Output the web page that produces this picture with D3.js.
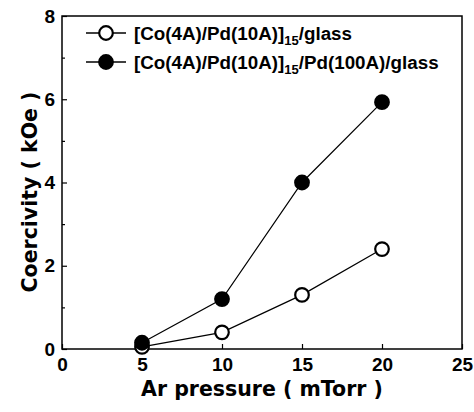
<!DOCTYPE html>
<html><head><meta charset="utf-8">
<script src="https://cdn.jsdelivr.net/npm/d3@7"></script>
<style>body{margin:0;background:#fff}svg{display:block}text{font-family:"Liberation Sans",Arial,sans-serif;}</style>
</head><body>
<svg id="c" width="474" height="412"></svg>
<script>
const pressure = [5, 10, 15, 20];
const glassSeries = [0.05, 0.4, 1.3, 2.4];
const pdSeries = [0.15, 1.2, 4.0, 5.93];
const xTicks = [0, 5, 10, 15, 20, 25];
const yTicks = [0, 2, 4, 6, 8];
const yMinor = [1, 3, 5, 7];
const legendLabels = ["[Co(4A)/Pd(10A)]", "[Co(4A)/Pd(10A)]"];
const legendTails = ["/glass", "/Pd(100A)/glass"];

const svg = d3.select("#c");
const L = 62, R = 462, T = 16, B = 349;
const x = d3.scaleLinear().domain([0, 25]).range([L, R]);
const y = d3.scaleLinear().domain([0, 8]).range([B, T]);

svg.append("rect").attr("x", L).attr("y", T).attr("width", R - L).attr("height", B - T)
  .attr("fill", "none").attr("stroke", "#000").attr("stroke-width", 1.5);

svg.append("g").attr("transform", `translate(0,${B})`)
  .call(d3.axisBottom(x).tickValues(xTicks).tickSize(-5).tickPadding(9).tickFormat(d3.format("d")));
svg.append("g").attr("transform", `translate(${L},0)`)
  .call(d3.axisLeft(y).tickValues(yTicks).tickSize(-5).tickPadding(7).tickFormat(d3.format("d")));
svg.append("g").attr("transform", `translate(${L},0)`)
  .call(d3.axisLeft(y).tickValues(yMinor).tickSize(-3).tickFormat(""));
svg.selectAll(".domain").remove();
svg.selectAll(".tick line").attr("stroke", "#000").attr("stroke-width", 1.2);
svg.selectAll(".tick text").attr("font-size", 19).attr("font-weight", "bold").attr("fill", "#000")
  .style("font-family", "'Liberation Sans',Arial,sans-serif");

const line = d3.line().x((d, i) => x(pressure[i])).y(d => y(d));
[glassSeries, pdSeries].forEach(s => {
  svg.append("path").datum(s).attr("d", line).attr("fill", "none").attr("stroke", "#000").attr("stroke-width", 1.2);
});
[[glassSeries, "#fff"], [pdSeries, "#000"]].forEach(([s, fill]) => {
  svg.selectAll(null).data(s).enter().append("circle")
    .attr("cx", (d, i) => x(pressure[i])).attr("cy", d => y(d)).attr("r", 6.8)
    .attr("fill", fill).attr("stroke", "#000").attr("stroke-width", 2.2);
});

// legend
const fills = ["#fff", "#000"];
[33, 62].forEach((ly, i) => {
  svg.append("line").attr("x1", 86).attr("x2", 99).attr("y1", ly).attr("y2", ly).attr("stroke", "#000").attr("stroke-width", 1.5);
  svg.append("line").attr("x1", 113).attr("x2", 126).attr("y1", ly).attr("y2", ly).attr("stroke", "#000").attr("stroke-width", 1.5);
  svg.append("circle").attr("cx", 106).attr("cy", ly).attr("r", 6.8).attr("fill", fills[i]).attr("stroke", "#000").attr("stroke-width", 2.2);
  const t = svg.append("text").attr("x", 134).attr("y", ly + 6.5).attr("font-size", 18.8).attr("font-weight", "bold");
  t.append("tspan").text(legendLabels[i]);
  t.append("tspan").attr("font-size", 13).attr("dy", 5).text("15");
  t.append("tspan").attr("dy", -5).text(legendTails[i]);
});

svg.append("text").attr("x", 262).attr("y", 396).attr("text-anchor", "middle")
  .style("font-family", "'DejaVu Sans',sans-serif")
  .attr("font-size", 20.5).attr("font-weight", "bold").text("Ar pressure ( mTorr )");
svg.append("text").attr("transform", `translate(37,192) rotate(-90)`).attr("text-anchor", "middle")
  .style("font-family", "'DejaVu Sans',sans-serif")
  .attr("font-size", 20.5).attr("font-weight", "bold").text("Coercivity ( kOe )");
</script>
</body></html>
